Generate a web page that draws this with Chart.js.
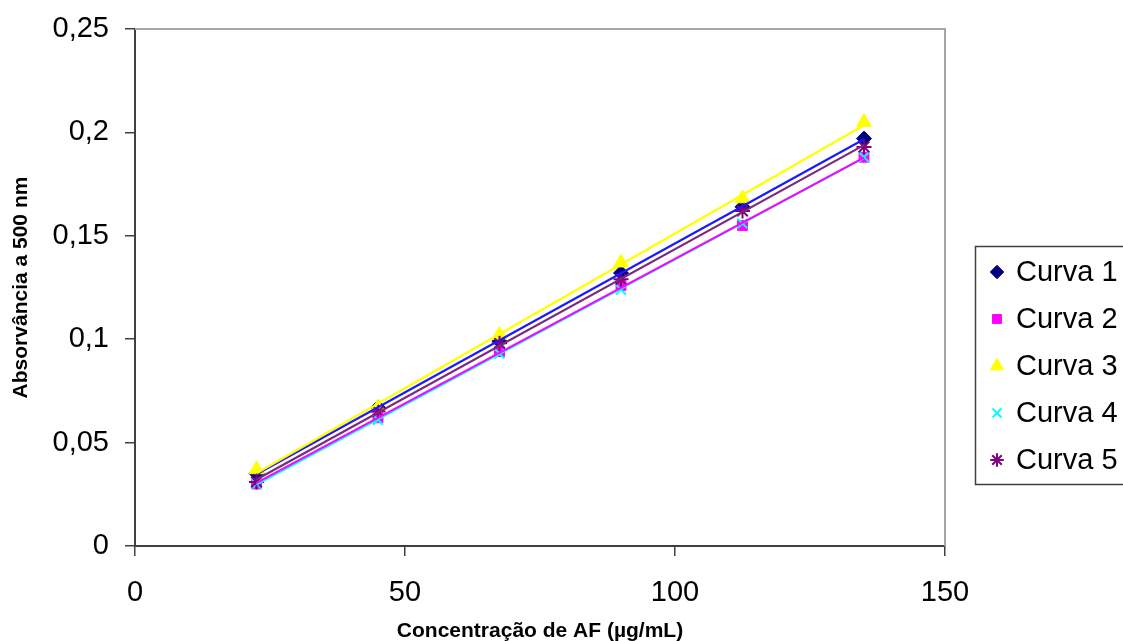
<!DOCTYPE html>
<html>
<head>
<meta charset="utf-8">
<script src="https://cdn.jsdelivr.net/npm/chart.js@4.4.1/dist/chart.umd.min.js"></script>
<style>
  html, body { margin: 0; padding: 0; background: #ffffff; }
  #wrap { width: 1123px; height: 641px; position: relative; }
</style>
</head>
<body>
<div id="wrap"><canvas id="c" width="1123" height="641"></canvas></div>
<script>
// ---- data ----
const concentrations = [22.5, 45, 67.5, 90, 112.5, 135];
const curva1 = [0.035, 0.067, 0.099, 0.132, 0.164, 0.197];
const curva2 = [0.030, 0.062, 0.094, 0.126, 0.155, 0.188];
const curva3 = [0.037, 0.067, 0.102, 0.137, 0.168, 0.205];
const curva4 = [0.030, 0.061, 0.093, 0.124, 0.156, 0.188];
const curva5 = [0.031, 0.065, 0.098, 0.129, 0.162, 0.193];
const seriesLabels = ['Curva 1', 'Curva 2', 'Curva 3', 'Curva 4', 'Curva 5'];
const xTicks = [0, 50, 100, 150];
const yTicks = [0, 0.05, 0.1, 0.15, 0.2, 0.25];

// ---- styles ----
const seriesValues = [curva1, curva2, curva3, curva4, curva5];
const markerColors = ['#000080', '#FF00FF', '#FFFF00', '#00FFFF', '#800080'];
const lineColors = ['#1a1aff', '#FF00FF', '#FFFF00', '#00FFFF', '#7a2a7a'];
const markerStyles = ['rectRot', 'rect', 'triangle', 'crossRot', 'star'];
const markerRadius = [7.5, 7, 8.5, 7, 7.5];
const markerBorder = [1, 1, 1, 2, 2];
const FONT = '"Liberation Sans", Arial, sans-serif';

// least squares trend line (as in the spreadsheet trendlines)
function fit(xs, ys) {
  const n = xs.length;
  const mx = xs.reduce((a, b) => a + b, 0) / n;
  const my = ys.reduce((a, b) => a + b, 0) / n;
  let sxy = 0, sxx = 0;
  for (let i = 0; i < n; i++) { sxy += (xs[i] - mx) * (ys[i] - my); sxx += (xs[i] - mx) ** 2; }
  const m = sxy / sxx;
  return { m: m, b: my - m * mx };
}

const datasets = [];
const lineDrawOrder = [3, 1, 0, 4, 2]; // cyan, magenta, curva1, curva5, yellow
seriesValues.forEach((vals, i) => {
  const f = fit(concentrations, vals);
  const x0 = concentrations[0], x1 = concentrations[concentrations.length - 1];
  datasets.push({
    type: 'scatter',
    label: seriesLabels[i] + ' tendência',
    data: [{ x: x0, y: f.m * x0 + f.b }, { x: x1, y: f.m * x1 + f.b }],
    showLine: true,
    borderColor: lineColors[i],
    borderWidth: 2.2,
    pointRadius: 0,
    pointHoverRadius: 0,
    order: 10 - lineDrawOrder.indexOf(i),
    isTrend: true
  });
});
seriesValues.forEach((vals, i) => {
  datasets.push({
    type: 'scatter',
    label: seriesLabels[i],
    data: concentrations.map((x, k) => ({ x: x, y: vals[k] })),
    showLine: false,
    pointStyle: markerStyles[i],
    pointRadius: markerRadius[i],
    pointBackgroundColor: markerColors[i],
    pointBorderColor: markerColors[i],
    pointBorderWidth: markerBorder[i],
    order: 20 - i
  });
});

function fmt(v) {
  const r = Math.round(v * 100) / 100;
  return String(r).replace('.', ',');
}

const frameAndLegend = {
  id: 'frameAndLegend',
  afterDatasetsDraw(chart) {
    const ctx = chart.ctx;
    const a = chart.chartArea;
    ctx.save();
    ctx.strokeStyle = '#a6a6a6';
    ctx.lineWidth = 2;
    ctx.beginPath();
    ctx.moveTo(a.left, a.top);
    ctx.lineTo(a.right, a.top);
    ctx.lineTo(a.right, a.bottom);
    ctx.stroke();
    ctx.restore();
  },
  afterDraw(chart) {
    const ctx = chart.ctx;
    ctx.save();
    ctx.strokeStyle = '#404040';
    ctx.lineWidth = 1.5;
    ctx.strokeRect(975.5, 246.5, 160, 238);
    const itemY = [272, 319, 366, 413, 460];
    ctx.font = '29px ' + FONT;
    ctx.textBaseline = 'middle';
    ctx.textAlign = 'left';
    const markerDs = chart.data.datasets.filter(d => !d.isTrend);
    markerDs.forEach((d, i) => {
      const y = itemY[i];
      ctx.fillStyle = d.pointBackgroundColor;
      ctx.strokeStyle = d.pointBorderColor;
      ctx.lineWidth = d.pointBorderWidth;
      Chart.helpers.drawPoint(ctx, {
        pointStyle: d.pointStyle,
        radius: d.pointRadius * 0.9,
        rotation: 0,
        borderWidth: d.pointBorderWidth
      }, 997, y);
      ctx.fillStyle = '#000000';
      ctx.fillText(d.label, 1016, y + 1);
    });
    ctx.restore();
  }
};

new Chart(document.getElementById('c'), {
  type: 'scatter',
  data: { datasets: datasets },
  plugins: [frameAndLegend],
  options: {
    responsive: false,
    animation: false,
    events: [],
    layout: { padding: { left: 0, right: 178, top: 29, bottom: 0 } },
    plugins: {
      legend: { display: false },
      tooltip: { enabled: false }
    },
    scales: {
      x: {
        type: 'linear',
        min: 0, max: 150,
        afterBuildTicks(scale) { scale.ticks = xTicks.map(v => ({ value: v })); },
        afterFit(scale) { scale.height = 95; },
        ticks: {
          color: '#000000',
          font: { family: FONT, size: 29 },
          padding: 20,
          maxRotation: 0,
          callback: v => fmt(v)
        },
        grid: { drawOnChartArea: false, drawTicks: true, tickLength: 10, color: '#404040', lineWidth: 1.5 },
        border: { display: true, color: '#404040', width: 2 },
        title: {
          display: true,
          text: 'Concentração de AF (µg/mL)',
          color: '#000000',
          font: { family: FONT, size: 21, weight: 'bold' },
          padding: { top: 0, bottom: -3 }
        }
      },
      y: {
        type: 'linear',
        min: 0, max: 0.25,
        afterBuildTicks(scale) { scale.ticks = yTicks.map(v => ({ value: v })); },
        afterFit(scale) { scale.width = 135; scale.paddingTop = 0; scale.paddingBottom = 0; },
        ticks: {
          color: '#000000',
          font: { family: FONT, size: 29 },
          padding: 16,
          callback: v => fmt(v)
        },
        grid: { drawOnChartArea: false, drawTicks: true, tickLength: 10, color: '#404040', lineWidth: 1.5 },
        border: { display: true, color: '#404040', width: 2 },
        title: {
          display: true,
          text: 'Absorvância a 500 nm',
          color: '#000000',
          font: { family: FONT, size: 21, weight: 'bold' },
          padding: { top: 9, bottom: 0 }
        }
      }
    }
  }
});
</script>
</body>
</html>
